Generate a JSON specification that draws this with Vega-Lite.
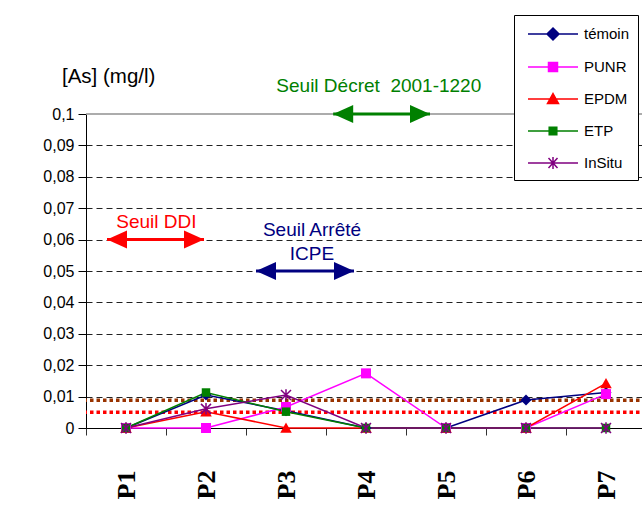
{
  "$schema": "https://vega.github.io/schema/vega-lite/v6.json",
  "width": 560,
  "height": 314,
  "autosize": {"type": "none"},
  "padding": {"left": 86, "top": 114, "right": 0, "bottom": 97},
  "background": "white",
  "config": {"view": {"stroke": null}, "font": "Liberation Sans"},
  "datasets": {
    "as": [
      {"pos": 1, "series": "témoin", "value": 0},
      {"pos": 2, "series": "témoin", "value": 0.0105},
      {"pos": 3, "series": "témoin", "value": 0.0055},
      {"pos": 4, "series": "témoin", "value": 0},
      {"pos": 5, "series": "témoin", "value": 0},
      {"pos": 6, "series": "témoin", "value": 0.0089},
      {"pos": 7, "series": "témoin", "value": 0.0113},
      {"pos": 1, "series": "PUNR", "value": 0},
      {"pos": 2, "series": "PUNR", "value": 0},
      {"pos": 3, "series": "PUNR", "value": 0.0067},
      {"pos": 4, "series": "PUNR", "value": 0.0174},
      {"pos": 5, "series": "PUNR", "value": 0},
      {"pos": 6, "series": "PUNR", "value": 0},
      {"pos": 7, "series": "PUNR", "value": 0.0108},
      {"pos": 1, "series": "EPDM", "value": 0},
      {"pos": 2, "series": "EPDM", "value": 0.0052},
      {"pos": 3, "series": "EPDM", "value": 0},
      {"pos": 4, "series": "EPDM", "value": 0},
      {"pos": 5, "series": "EPDM", "value": 0},
      {"pos": 6, "series": "EPDM", "value": 0},
      {"pos": 7, "series": "EPDM", "value": 0.0142},
      {"pos": 1, "series": "ETP", "value": 0},
      {"pos": 2, "series": "ETP", "value": 0.0113},
      {"pos": 3, "series": "ETP", "value": 0.0052},
      {"pos": 4, "series": "ETP", "value": 0},
      {"pos": 5, "series": "ETP", "value": 0},
      {"pos": 6, "series": "ETP", "value": 0},
      {"pos": 7, "series": "ETP", "value": 0},
      {"pos": 1, "series": "InSitu", "value": 0},
      {"pos": 2, "series": "InSitu", "value": 0.0061},
      {"pos": 3, "series": "InSitu", "value": 0.0105},
      {"pos": 4, "series": "InSitu", "value": 0},
      {"pos": 5, "series": "InSitu", "value": 0},
      {"pos": 6, "series": "InSitu", "value": 0},
      {"pos": 7, "series": "InSitu", "value": 0}
    ],
    "arrows": [
      {"name": "Décret", "from": 3.59, "to": 4.8, "value": 0.1},
      {"name": "DDI", "from": 0.7625, "to": 1.975, "value": 0.06},
      {"name": "ICPE", "from": 2.625, "to": 3.85, "value": 0.05}
    ],
    "labels": [
      {"name": "Décret", "label": "Seuil Décret\u00a0 2001-1220", "pos": 4.16, "value": 0.1089},
      {"name": "DDI", "label": "Seuil DDI", "pos": 1.38, "value": 0.0656},
      {"name": "ICPE", "label": "Seuil Arrêté|ICPE", "pos": 3.325, "value": 0.0631}
    ]
  },
  "layer": [
    {
      "data": {"values": [{"limit": "Décret", "value": 0.1}]},
      "mark": {"type": "rule", "color": "#909090", "strokeWidth": 1.5},
      "encoding": {
        "y": {"field": "value", "type": "quantitative", "axis": {"title": null, "values": [0, 0.01, 0.02, 0.03, 0.04, 0.05, 0.06, 0.07, 0.08, 0.09, 0.1], "labelExpr": "replace(toString(datum.value), '.', ',')", "labelFontSize": 16, "labelColor": "#000", "labelPadding": 4, "labelFlush": false, "labelOverlap": false, "tickSize": 8, "tickColor": "#000", "domainColor": "#000", "grid": true, "gridColor": "#222", "gridDash": [6, 4], "gridOpacity": {"condition": {"test": "datum.value === 0 || datum.value === 0.1", "value": 0}, "value": 1}}}
      }
    },
    {
      "data": {"values": [{"limit": "brown", "value": 0.0088}]},
      "mark": {"type": "rule", "color": "#993300", "strokeWidth": 3.5, "strokeDash": [3.5, 3], "strokeCap": "butt"},
      "encoding": {
        "y": {"field": "value", "type": "quantitative", "axis": {"title": null, "values": [0, 0.01, 0.02, 0.03, 0.04, 0.05, 0.06, 0.07, 0.08, 0.09, 0.1], "labelExpr": "replace(toString(datum.value), '.', ',')", "labelFontSize": 16, "labelColor": "#000", "labelPadding": 4, "labelFlush": false, "labelOverlap": false, "tickSize": 8, "tickColor": "#000", "domainColor": "#000", "grid": true, "gridColor": "#222", "gridDash": [6, 4], "gridOpacity": {"condition": {"test": "datum.value === 0 || datum.value === 0.1", "value": 0}, "value": 1}}}
      }
    },
    {
      "data": {"values": [{"limit": "red", "value": 0.005}]},
      "mark": {"type": "rule", "color": "#FF0000", "strokeWidth": 3.5, "strokeDash": [3.5, 3], "strokeCap": "butt"},
      "encoding": {
        "y": {"field": "value", "type": "quantitative", "axis": {"title": null, "values": [0, 0.01, 0.02, 0.03, 0.04, 0.05, 0.06, 0.07, 0.08, 0.09, 0.1], "labelExpr": "replace(toString(datum.value), '.', ',')", "labelFontSize": 16, "labelColor": "#000", "labelPadding": 4, "labelFlush": false, "labelOverlap": false, "tickSize": 8, "tickColor": "#000", "domainColor": "#000", "grid": true, "gridColor": "#222", "gridDash": [6, 4], "gridOpacity": {"condition": {"test": "datum.value === 0 || datum.value === 0.1", "value": 0}, "value": 1}}}
      }
    },
    {
      "data": {"name": "as"},
      "mark": {"type": "line", "strokeWidth": 1.5},
      "encoding": {
        "x": {
          "field": "pos", "type": "quantitative",
          "scale": {"domain": [0.5, 7.5], "nice": false, "zero": false},
          "axis": {"title": null, "values": [0.5, 1, 1.5, 2, 2.5, 3, 3.5, 4, 4.5, 5, 5.5, 6, 6.5, 7, 7.5], "labelExpr": "datum.value % 1 === 0 ? 'P' + datum.value : ''", "labelAngle": -90, "labelFont": "Liberation Serif", "labelFontWeight": "bold", "labelFontSize": 26, "labelColor": "#000", "labelPadding": 35, "labelOverlap": false, "labelBound": false, "labelFlush": false, "tickSize": 7, "tickColor": "#333", "tickOpacity": {"condition": {"test": "datum.value % 1 === 0", "value": 0}, "value": 1}, "domainColor": "#000", "grid": false}
        },
        "y": {
          "field": "value", "type": "quantitative",
          "scale": {"domain": [0, 0.1], "nice": false},
          "axis": {"title": null, "values": [0, 0.01, 0.02, 0.03, 0.04, 0.05, 0.06, 0.07, 0.08, 0.09, 0.1], "labelExpr": "replace(toString(datum.value), '.', ',')", "labelFontSize": 16, "labelColor": "#000", "labelPadding": 4, "labelFlush": false, "labelOverlap": false, "tickSize": 8, "tickColor": "#000", "domainColor": "#000", "grid": true, "gridColor": "#222", "gridDash": [6, 4], "gridOpacity": {"condition": {"test": "datum.value === 0 || datum.value === 0.1", "value": 0}, "value": 1}}
        },
        "color": {
          "field": "series", "type": "nominal",
          "scale": {
            "domain": ["témoin", "PUNR", "EPDM", "ETP", "InSitu"],
            "range": ["#000080", "#FF00FF", "#FF0000", "#008000", "#800080"]
          },
          "legend": {
            "orient": "none",
            "legendX": 428,
            "legendY": -99,
            "title": null,
            "padding": 8,
            "strokeColor": "#000",
            "fillColor": "#fff",
            "labelFont": "Liberation Sans",
            "labelFontSize": 15,
            "labelColor": "#000",
            "symbolSize": 400,
            "symbolStrokeWidth": 1.5,
            "symbolOffset": 20,
            "labelOffset": 20,
            "rowPadding": 13,
            "encode": {
              "symbols": {
                "update": {
                  "shape": {"signal": "datum.value === 'témoin' ? 'M-2.5,0L2.5,0M0,-0.6L0.6,0L0,0.6L-0.6,0Z' : datum.value === 'PUNR' ? 'M-2.5,0L2.5,0M-0.45,-0.45L0.45,-0.45L0.45,0.45L-0.45,0.45Z' : datum.value === 'EPDM' ? 'M-2.5,0L2.5,0M0,-0.55L0.55,0.45L-0.55,0.45Z' : datum.value === 'ETP' ? 'M-2.5,0L2.5,0M-0.38,-0.38L0.38,-0.38L0.38,0.38L-0.38,0.38Z' : 'M-2.5,0L2.5,0M-0.45,-0.5L0.45,0.5M-0.45,0.5L0.45,-0.5M0,-0.6L0,0.6'"},
                  "fill": {"scale": "color", "field": "value"},
                  "stroke": {"scale": "color", "field": "value"},
                  "strokeWidth": {"value": 1.5},
                  "opacity": {"value": 1}
                }
              }
            }
          }
        }
      }
    },
    {
      "data": {"name": "as"},
      "transform": [{"filter": "datum.series !== 'InSitu'"}],
      "mark": {"type": "point", "filled": true, "opacity": 1, "size": 100},
      "encoding": {
        "x": {"field": "pos", "type": "quantitative", "axis": {"title": null, "values": [0.5, 1, 1.5, 2, 2.5, 3, 3.5, 4, 4.5, 5, 5.5, 6, 6.5, 7, 7.5], "labelExpr": "datum.value % 1 === 0 ? 'P' + datum.value : ''", "labelAngle": -90, "labelFont": "Liberation Serif", "labelFontWeight": "bold", "labelFontSize": 26, "labelColor": "#000", "labelPadding": 35, "labelOverlap": false, "labelBound": false, "labelFlush": false, "tickSize": 7, "tickColor": "#333", "tickOpacity": {"condition": {"test": "datum.value % 1 === 0", "value": 0}, "value": 1}, "domainColor": "#000", "grid": false}},
        "y": {"field": "value", "type": "quantitative", "axis": {"title": null, "values": [0, 0.01, 0.02, 0.03, 0.04, 0.05, 0.06, 0.07, 0.08, 0.09, 0.1], "labelExpr": "replace(toString(datum.value), '.', ',')", "labelFontSize": 16, "labelColor": "#000", "labelPadding": 4, "labelFlush": false, "labelOverlap": false, "tickSize": 8, "tickColor": "#000", "domainColor": "#000", "grid": true, "gridColor": "#222", "gridDash": [6, 4], "gridOpacity": {"condition": {"test": "datum.value === 0 || datum.value === 0.1", "value": 0}, "value": 1}}},
        "color": {"field": "series", "type": "nominal", "legend": null},
        "shape": {
          "field": "series", "type": "nominal",
          "scale": {
            "domain": ["témoin", "PUNR", "EPDM", "ETP"],
            "range": ["M0,-1.1L1.1,0L0,1.1L-1.1,0Z", "M-1,-1L1,-1L1,1L-1,1Z", "M0,-1.1L1.15,0.95L-1.15,0.95Z", "M-0.85,-0.85L0.85,-0.85L0.85,0.85L-0.85,0.85Z"]
          },
          "legend": null
        }
      }
    },
    {
      "data": {"name": "as"},
      "transform": [{"filter": "datum.series === 'InSitu'"}],
      "mark": {"type": "point", "filled": false, "opacity": 1, "size": 100, "strokeWidth": 1.5, "shape": "M-1,-1L1,1M-1,1L1,-1M0,-1.15L0,1.15"},
      "encoding": {
        "x": {"field": "pos", "type": "quantitative", "axis": {"title": null, "values": [0.5, 1, 1.5, 2, 2.5, 3, 3.5, 4, 4.5, 5, 5.5, 6, 6.5, 7, 7.5], "labelExpr": "datum.value % 1 === 0 ? 'P' + datum.value : ''", "labelAngle": -90, "labelFont": "Liberation Serif", "labelFontWeight": "bold", "labelFontSize": 26, "labelColor": "#000", "labelPadding": 35, "labelOverlap": false, "labelBound": false, "labelFlush": false, "tickSize": 7, "tickColor": "#333", "tickOpacity": {"condition": {"test": "datum.value % 1 === 0", "value": 0}, "value": 1}, "domainColor": "#000", "grid": false}},
        "y": {"field": "value", "type": "quantitative", "axis": {"title": null, "values": [0, 0.01, 0.02, 0.03, 0.04, 0.05, 0.06, 0.07, 0.08, 0.09, 0.1], "labelExpr": "replace(toString(datum.value), '.', ',')", "labelFontSize": 16, "labelColor": "#000", "labelPadding": 4, "labelFlush": false, "labelOverlap": false, "tickSize": 8, "tickColor": "#000", "domainColor": "#000", "grid": true, "gridColor": "#222", "gridDash": [6, 4], "gridOpacity": {"condition": {"test": "datum.value === 0 || datum.value === 0.1", "value": 0}, "value": 1}}},
        "color": {"field": "series", "type": "nominal", "legend": null}
      }
    },
    {
      "data": {"name": "arrows"},
      "mark": {"type": "rule", "strokeWidth": 3},
      "encoding": {
        "x": {"field": "from", "type": "quantitative", "axis": {"title": null, "values": [0.5, 1, 1.5, 2, 2.5, 3, 3.5, 4, 4.5, 5, 5.5, 6, 6.5, 7, 7.5], "labelExpr": "datum.value % 1 === 0 ? 'P' + datum.value : ''", "labelAngle": -90, "labelFont": "Liberation Serif", "labelFontWeight": "bold", "labelFontSize": 26, "labelColor": "#000", "labelPadding": 35, "labelOverlap": false, "labelBound": false, "labelFlush": false, "tickSize": 7, "tickColor": "#333", "tickOpacity": {"condition": {"test": "datum.value % 1 === 0", "value": 0}, "value": 1}, "domainColor": "#000", "grid": false}},
        "x2": {"field": "to"},
        "y": {"field": "value", "type": "quantitative", "axis": {"title": null, "values": [0, 0.01, 0.02, 0.03, 0.04, 0.05, 0.06, 0.07, 0.08, 0.09, 0.1], "labelExpr": "replace(toString(datum.value), '.', ',')", "labelFontSize": 16, "labelColor": "#000", "labelPadding": 4, "labelFlush": false, "labelOverlap": false, "tickSize": 8, "tickColor": "#000", "domainColor": "#000", "grid": true, "gridColor": "#222", "gridDash": [6, 4], "gridOpacity": {"condition": {"test": "datum.value === 0 || datum.value === 0.1", "value": 0}, "value": 1}}},
        "stroke": {"field": "name", "type": "nominal", "scale": {"domain": ["Décret", "DDI", "ICPE"], "range": ["#008000", "#FF0000", "#000080"]}, "legend": null}
      }
    },
    {
      "data": {"name": "arrows"},
      "mark": {"type": "point", "filled": true, "opacity": 1, "strokeWidth": 0, "size": 400, "shape": "M-1,0L1,-0.9L1,0.9Z", "xOffset": 10},
      "encoding": {
        "x": {"field": "from", "type": "quantitative", "axis": {"title": null, "values": [0.5, 1, 1.5, 2, 2.5, 3, 3.5, 4, 4.5, 5, 5.5, 6, 6.5, 7, 7.5], "labelExpr": "datum.value % 1 === 0 ? 'P' + datum.value : ''", "labelAngle": -90, "labelFont": "Liberation Serif", "labelFontWeight": "bold", "labelFontSize": 26, "labelColor": "#000", "labelPadding": 35, "labelOverlap": false, "labelBound": false, "labelFlush": false, "tickSize": 7, "tickColor": "#333", "tickOpacity": {"condition": {"test": "datum.value % 1 === 0", "value": 0}, "value": 1}, "domainColor": "#000", "grid": false}},
        "y": {"field": "value", "type": "quantitative", "axis": {"title": null, "values": [0, 0.01, 0.02, 0.03, 0.04, 0.05, 0.06, 0.07, 0.08, 0.09, 0.1], "labelExpr": "replace(toString(datum.value), '.', ',')", "labelFontSize": 16, "labelColor": "#000", "labelPadding": 4, "labelFlush": false, "labelOverlap": false, "tickSize": 8, "tickColor": "#000", "domainColor": "#000", "grid": true, "gridColor": "#222", "gridDash": [6, 4], "gridOpacity": {"condition": {"test": "datum.value === 0 || datum.value === 0.1", "value": 0}, "value": 1}}},
        "fill": {"field": "name", "type": "nominal", "scale": {"domain": ["Décret", "DDI", "ICPE"], "range": ["#008000", "#FF0000", "#000080"]}, "legend": null}
      }
    },
    {
      "data": {"name": "arrows"},
      "mark": {"type": "point", "filled": true, "opacity": 1, "strokeWidth": 0, "size": 400, "shape": "M1,0L-1,-0.9L-1,0.9Z", "xOffset": -10},
      "encoding": {
        "x": {"field": "to", "type": "quantitative", "axis": {"title": null, "values": [0.5, 1, 1.5, 2, 2.5, 3, 3.5, 4, 4.5, 5, 5.5, 6, 6.5, 7, 7.5], "labelExpr": "datum.value % 1 === 0 ? 'P' + datum.value : ''", "labelAngle": -90, "labelFont": "Liberation Serif", "labelFontWeight": "bold", "labelFontSize": 26, "labelColor": "#000", "labelPadding": 35, "labelOverlap": false, "labelBound": false, "labelFlush": false, "tickSize": 7, "tickColor": "#333", "tickOpacity": {"condition": {"test": "datum.value % 1 === 0", "value": 0}, "value": 1}, "domainColor": "#000", "grid": false}},
        "y": {"field": "value", "type": "quantitative", "axis": {"title": null, "values": [0, 0.01, 0.02, 0.03, 0.04, 0.05, 0.06, 0.07, 0.08, 0.09, 0.1], "labelExpr": "replace(toString(datum.value), '.', ',')", "labelFontSize": 16, "labelColor": "#000", "labelPadding": 4, "labelFlush": false, "labelOverlap": false, "tickSize": 8, "tickColor": "#000", "domainColor": "#000", "grid": true, "gridColor": "#222", "gridDash": [6, 4], "gridOpacity": {"condition": {"test": "datum.value === 0 || datum.value === 0.1", "value": 0}, "value": 1}}},
        "fill": {"field": "name", "type": "nominal", "scale": {"domain": ["Décret", "DDI", "ICPE"], "range": ["#008000", "#FF0000", "#000080"]}, "legend": null}
      }
    },
    {
      "data": {"name": "labels"},
      "mark": {"type": "text", "fontSize": 19, "font": "Liberation Sans", "align": "center", "baseline": "middle", "lineBreak": "|", "lineHeight": 24},
      "encoding": {
        "x": {"field": "pos", "type": "quantitative", "axis": {"title": null, "values": [0.5, 1, 1.5, 2, 2.5, 3, 3.5, 4, 4.5, 5, 5.5, 6, 6.5, 7, 7.5], "labelExpr": "datum.value % 1 === 0 ? 'P' + datum.value : ''", "labelAngle": -90, "labelFont": "Liberation Serif", "labelFontWeight": "bold", "labelFontSize": 26, "labelColor": "#000", "labelPadding": 35, "labelOverlap": false, "labelBound": false, "labelFlush": false, "tickSize": 7, "tickColor": "#333", "tickOpacity": {"condition": {"test": "datum.value % 1 === 0", "value": 0}, "value": 1}, "domainColor": "#000", "grid": false}},
        "y": {"field": "value", "type": "quantitative", "axis": {"title": null, "values": [0, 0.01, 0.02, 0.03, 0.04, 0.05, 0.06, 0.07, 0.08, 0.09, 0.1], "labelExpr": "replace(toString(datum.value), '.', ',')", "labelFontSize": 16, "labelColor": "#000", "labelPadding": 4, "labelFlush": false, "labelOverlap": false, "tickSize": 8, "tickColor": "#000", "domainColor": "#000", "grid": true, "gridColor": "#222", "gridDash": [6, 4], "gridOpacity": {"condition": {"test": "datum.value === 0 || datum.value === 0.1", "value": 0}, "value": 1}}},
        "text": {"field": "label"},
        "fill": {"field": "name", "type": "nominal", "scale": {"domain": ["Décret", "DDI", "ICPE"], "range": ["#008000", "#FF0000", "#000080"]}, "legend": null}
      }
    },
    {
      "data": {"values": [{"label": "[As] (mg/l)", "pos": 0.2, "value": 0.1118}]},
      "mark": {"type": "text", "color": "#000", "fontSize": 20.5, "font": "Liberation Sans", "align": "left", "baseline": "middle"},
      "encoding": {
        "x": {"field": "pos", "type": "quantitative", "axis": {"title": null, "values": [0.5, 1, 1.5, 2, 2.5, 3, 3.5, 4, 4.5, 5, 5.5, 6, 6.5, 7, 7.5], "labelExpr": "datum.value % 1 === 0 ? 'P' + datum.value : ''", "labelAngle": -90, "labelFont": "Liberation Serif", "labelFontWeight": "bold", "labelFontSize": 26, "labelColor": "#000", "labelPadding": 35, "labelOverlap": false, "labelBound": false, "labelFlush": false, "tickSize": 7, "tickColor": "#333", "tickOpacity": {"condition": {"test": "datum.value % 1 === 0", "value": 0}, "value": 1}, "domainColor": "#000", "grid": false}},
        "y": {"field": "value", "type": "quantitative", "axis": {"title": null, "values": [0, 0.01, 0.02, 0.03, 0.04, 0.05, 0.06, 0.07, 0.08, 0.09, 0.1], "labelExpr": "replace(toString(datum.value), '.', ',')", "labelFontSize": 16, "labelColor": "#000", "labelPadding": 4, "labelFlush": false, "labelOverlap": false, "tickSize": 8, "tickColor": "#000", "domainColor": "#000", "grid": true, "gridColor": "#222", "gridDash": [6, 4], "gridOpacity": {"condition": {"test": "datum.value === 0 || datum.value === 0.1", "value": 0}, "value": 1}}},
        "text": {"field": "label"}
      }
    }
  ]
}
